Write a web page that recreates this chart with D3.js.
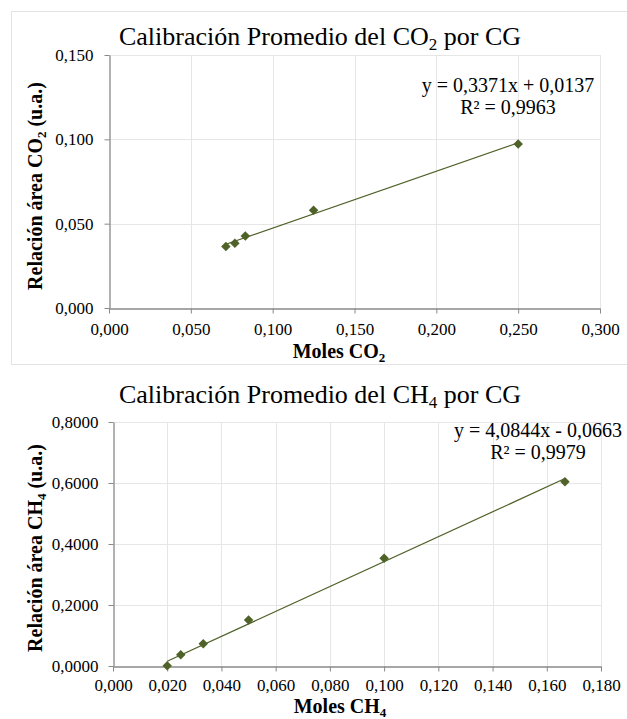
<!doctype html>
<html lang="es">
<head>
<meta charset="utf-8">
<title>Calibración promedio CO2 / CH4</title>
<style>
  body { margin: 0; background: #ffffff; }
  svg text { font-family: "Liberation Serif", "DejaVu Serif", serif; fill: #000; }
</style>
</head>
<body>
<script src="https://d3js.org/d3.v7.min.js"></script>
<script>
// ---- data ----
var co2Moles = [0.0714, 0.0769, 0.0833, 0.125, 0.250];
var co2Area  = [0.0364, 0.0384, 0.0427, 0.0580, 0.0973];
var co2Fit   = [0.3371, 0.0137];          // slope, intercept
var co2R2    = "0,9963";
var co2XTicks = [0, 0.05, 0.10, 0.15, 0.20, 0.25, 0.30];
var co2YTicks = [0, 0.05, 0.10, 0.15];

var ch4Moles = [0.020, 0.025, 0.0333, 0.050, 0.100, 0.1667];
var ch4Area  = [0.001, 0.037, 0.073, 0.151, 0.353, 0.604];
var ch4Fit   = [4.0844, -0.0663];
var ch4R2    = "0,9979";
var ch4XTicks = [0, 0.02, 0.04, 0.06, 0.08, 0.10, 0.12, 0.14, 0.16, 0.18];
var ch4YTicks = [0, 0.2, 0.4, 0.6, 0.8];

var W = 627, H = 719;
var green = "#4f6228";
var serif = '"Liberation Serif", "DejaVu Serif", serif';
var loc = d3.formatLocale({decimal: ",", thousands: ".", grouping: [3], currency: ["", ""]});

var svg = d3.select("body").append("svg")
  .attr("width", W)
  .attr("height", H)
  .style("font-family", serif);

// border of the upper chart
svg.append("rect")
  .attr("x", 11.5).attr("y", 11.5)
  .attr("width", 640).attr("height", 353)
  .attr("fill", "none")
  .attr("stroke", "#e3e3e3");

// write text made of pieces, some of them subscripts
function rich(sel, parts, size) {
  var shift = Math.round(size * 0.2);
  var wasSub = false;
  parts.forEach(function(p) {
    var t = sel.append("tspan").style("font-family", serif).text(p[0]);
    if (p[1]) {
      t.attr("dy", shift).style("font-size", Math.round(size * 0.65) + "px");
      wasSub = true;
    } else if (wasSub) {
      t.attr("dy", -shift);
      wasSub = false;
    }
  });
}

function drawChart(c) {
  var x = d3.scaleLinear().domain(c.xDomain).range([c.left, c.right]);
  var y = d3.scaleLinear().domain(c.yDomain).range([c.bottom, c.top]);
  var g = svg.append("g");

  // grid
  g.append("g").selectAll("line").data(c.xTicks.slice(1)).enter().append("line")
    .attr("x1", function(d) { return Math.round(x(d)) + 0.5; })
    .attr("x2", function(d) { return Math.round(x(d)) + 0.5; })
    .attr("y1", c.top).attr("y2", c.bottom)
    .attr("stroke", "#e6e6e6");
  g.append("g").selectAll("line").data(c.yTicks.slice(1)).enter().append("line")
    .attr("y1", function(d) { return Math.round(y(d)) + 0.5; })
    .attr("y2", function(d) { return Math.round(y(d)) + 0.5; })
    .attr("x1", c.left).attr("x2", c.right)
    .attr("stroke", "#e6e6e6");

  // axes
  var xAxis = g.append("g")
    .attr("transform", "translate(0," + (Math.round(c.bottom) + 0.5) + ")")
    .call(d3.axisBottom(x).tickValues(c.xTicks).tickFormat(loc.format(".3f"))
      .tickSize(5).tickSizeOuter(0).tickPadding(c.xPad));
  var yAxis = g.append("g")
    .attr("transform", "translate(" + (Math.round(c.left) + 0.5) + ",0)")
    .call(d3.axisLeft(y).tickValues(c.yTicks).tickFormat(loc.format(c.yFmt))
      .tickSize(5).tickSizeOuter(0).tickPadding(c.yPad));
  [xAxis, yAxis].forEach(function(a) {
    a.attr("font-family", serif).attr("font-size", 17);
    a.select(".domain").attr("stroke", "#898989").attr("stroke-width", 1.3);
    a.selectAll(".tick line").attr("stroke", "#898989");
    a.selectAll(".tick text")
      .style("font-family", serif)
      .style("font-size", "17px").attr("fill", "#000");
  });

  // trend line
  var ends = d3.extent(c.xs);
  g.append("path")
    .datum(ends)
    .attr("d", d3.line()
      .x(function(d) { return x(d); })
      .y(function(d) { return y(c.fit[0] * d + c.fit[1]); }))
    .attr("fill", "none")
    .attr("stroke", green)
    .attr("stroke-width", 1.2);

  // markers
  var sym = d3.symbol().type(d3.symbolSquare).size(45);
  g.append("g").selectAll("path").data(c.xs).enter().append("path")
    .attr("d", sym)
    .attr("transform", function(d, i) {
      return "translate(" + x(d) + "," + y(c.ys[i]) + ") rotate(45)";
    })
    .attr("fill", green);

  // title
  rich(g.append("text").attr("x", c.titleX).attr("y", c.titleY)
    .attr("text-anchor", "middle").style("font-size", "26px"), c.title, 26);

  // equation
  var eq = g.append("text").attr("text-anchor", "middle")
    .style("font-family", serif).style("font-size", "20px");
  eq.append("tspan").attr("x", c.eqX).attr("y", c.eqY).text(c.eqText);
  eq.append("tspan").attr("x", c.eqX).attr("y", c.eqY + 22).text("R² = " + c.r2);

  // axis titles
  rich(g.append("text").attr("x", c.xTitleX).attr("y", c.xTitleY)
    .attr("text-anchor", "middle").style("font-size", "20px").style("font-weight", "bold"), c.xTitle, 20);
  rich(g.append("text")
    .attr("transform", "translate(" + c.yTitleX + "," + c.yTitleY + ") rotate(-90)")
    .attr("text-anchor", "middle").style("font-size", "20px").style("font-weight", "bold"), c.yTitle, 20);
}

drawChart({
  xs: co2Moles, ys: co2Area, fit: co2Fit, r2: co2R2,
  xTicks: co2XTicks, yTicks: co2YTicks,
  xDomain: [0, 0.30], yDomain: [0, 0.15],
  left: 109, right: 600, top: 55, bottom: 308,
  xPad: 9, yPad: 11, yFmt: ".3f",
  title: [["Calibración Promedio del CO"], ["2", true], [" por CG"]],
  titleX: 320, titleY: 45,
  eqText: "y = 0,3371x + 0,0137", eqX: 508, eqY: 92,
  xTitle: [["Moles CO"], ["2", true]], xTitleX: 339, xTitleY: 358,
  yTitle: [["Relación área CO"], ["2", true], [" (u.a.)"]], yTitleX: 42, yTitleY: 186
});

drawChart({
  xs: ch4Moles, ys: ch4Area, fit: ch4Fit, r2: ch4R2,
  xTicks: ch4XTicks, yTicks: ch4YTicks,
  xDomain: [0, 0.18], yDomain: [0, 0.8],
  left: 113, right: 601, top: 422, bottom: 666,
  xPad: 7, yPad: 10, yFmt: ".4f",
  title: [["Calibración Promedio del CH"], ["4", true], [" por CG"]],
  titleX: 320, titleY: 403,
  eqText: "y = 4,0844x - 0,0663", eqX: 538, eqY: 437,
  xTitle: [["Moles CH"], ["4", true]], xTitleX: 340, xTitleY: 713,
  yTitle: [["Relación área CH"], ["4", true], [" (u.a.)"]], yTitleX: 42, yTitleY: 548
});
</script>
</body>
</html>
